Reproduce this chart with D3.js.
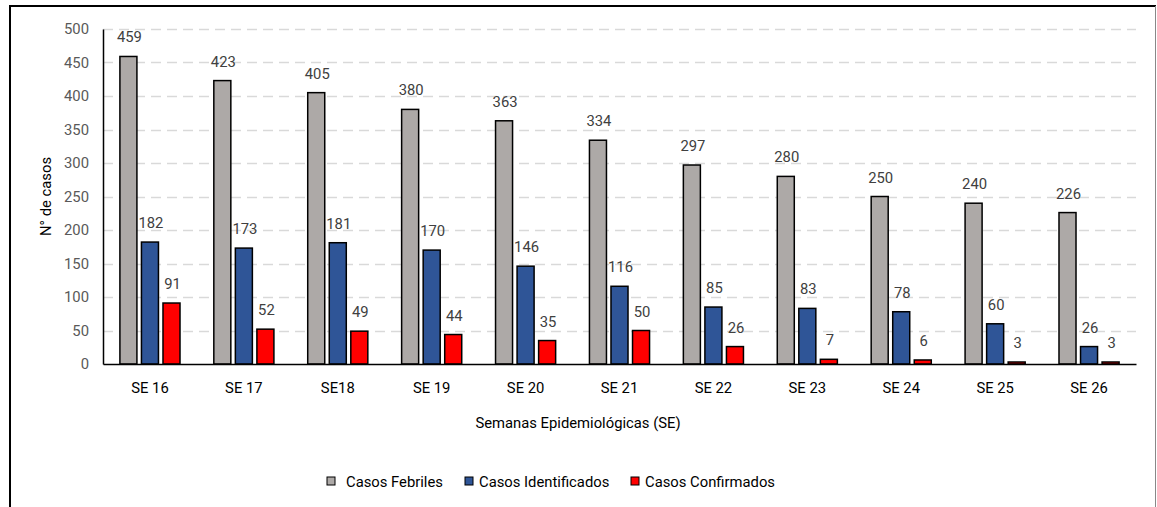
<!DOCTYPE html>
<html><head><meta charset="utf-8">
<script src="https://cdn.jsdelivr.net/npm/d3@7"></script>
<style>body{margin:0;background:#fff;} svg{display:block;} text{font-family:Roboto,"Open Sans",sans-serif;}</style>
</head><body><svg id="c" width="1157" height="507"></svg>
<script>
const categories = ["SE 16","SE 17","SE18","SE 19","SE 20","SE 21","SE 22","SE 23","SE 24","SE 25","SE 26"];
const febriles = [459,423,405,380,363,334,297,280,250,240,226];
const identificados = [182,173,181,170,146,116,85,83,78,60,26];
const confirmados = [91,52,49,44,35,50,26,7,6,3,3];
const seriesNames = ["Casos Febriles","Casos Identificados","Casos Confirmados"];
const seriesColors = ["#ADA9A7","#2F5597","#FF0000"];
const yTicks = [0,50,100,150,200,250,300,350,400,450,500];

const svg = d3.select("#c");
const L=103, R=1136, T=29, B=364;
const FS = "14.8px";
const series = [febriles, identificados, confirmados];

// frame
svg.append("line").attr("x1",9).attr("x2",1156).attr("y1",6).attr("y2",6).attr("stroke","#000").attr("stroke-width",2);
svg.append("line").attr("x1",10).attr("x2",10).attr("y1",5).attr("y2",507).attr("stroke","#000").attr("stroke-width",2);
svg.append("line").attr("x1",1155.5).attr("x2",1155.5).attr("y1",6).attr("y2",507).attr("stroke","#888").attr("stroke-width",1);

const x = d3.scaleBand().domain(categories).range([L,R]).paddingInner(0.36).paddingOuter(0.18);
const xs = d3.scaleBand().domain(d3.range(3)).range([0,x.bandwidth()]).paddingInner(0.21).paddingOuter(0);
const y = d3.scaleLinear().domain([0,500]).range([B,T]);

// grid
svg.append("g").selectAll("line").data(yTicks.filter(d=>d>0)).join("line")
  .attr("x1",L).attr("x2",R).attr("y1",d=>Math.round(y(d))+0.5).attr("y2",d=>Math.round(y(d))+0.5)
  .attr("stroke","#d9d9d9").attr("stroke-width",1.5).attr("stroke-dasharray","10,6");

// y axis
const ya = svg.append("g").attr("transform",`translate(${L},0)`)
  .call(d3.axisLeft(y).tickValues(yTicks).tickSize(0).tickPadding(14));
ya.select(".domain").attr("stroke","#000").attr("stroke-width",1.5);
ya.selectAll("text").attr("fill","#595959").style("font-size",FS);

// bars
categories.forEach((c,i)=>{
  series.forEach((s,j)=>{
    const bx = x(c)+xs(j), v=s[i];
    svg.append("rect").attr("x",bx).attr("y",y(v)).attr("width",xs.bandwidth()).attr("height",Math.max(B-y(v),0))
      .attr("fill",seriesColors[j]).attr("stroke","#000").attr("stroke-width",1.5);
    svg.append("text").attr("x",bx+xs.bandwidth()/2+1).attr("y",y(v)-14).attr("text-anchor","middle")
      .attr("fill","#404040").style("font-size",FS).text(v);
  });
});

// x axis
const xa = svg.append("g").attr("transform",`translate(0,${B})`)
  .call(d3.axisBottom(x).tickSize(0).tickPadding(18));
xa.select(".domain").attr("stroke","#000").attr("stroke-width",1.5);
xa.selectAll("text").attr("fill","#000").style("font-size",FS);

// titles
svg.append("text").attr("x",578).attr("y",428).attr("text-anchor","middle").attr("fill","#000").style("font-size",FS).text("Semanas Epidemiológicas (SE)");
svg.append("text").attr("transform",`translate(51,${(T+B)/2}) rotate(-90)`).attr("text-anchor","middle").attr("fill","#000").style("font-size",FS).text("N° de casos");

// legend
const legSq = [327,465,631];
const legTx = [346,479,645];
seriesNames.forEach((n,j)=>{
  svg.append("rect").attr("x",legSq[j]).attr("y",477).attr("width",8).attr("height",8).attr("fill",seriesColors[j]).attr("stroke","#000").attr("stroke-width",1);
  svg.append("text").attr("x",legTx[j]).attr("y",487).attr("fill","#000").style("font-size",FS).text(n);
});
</script></body></html>
